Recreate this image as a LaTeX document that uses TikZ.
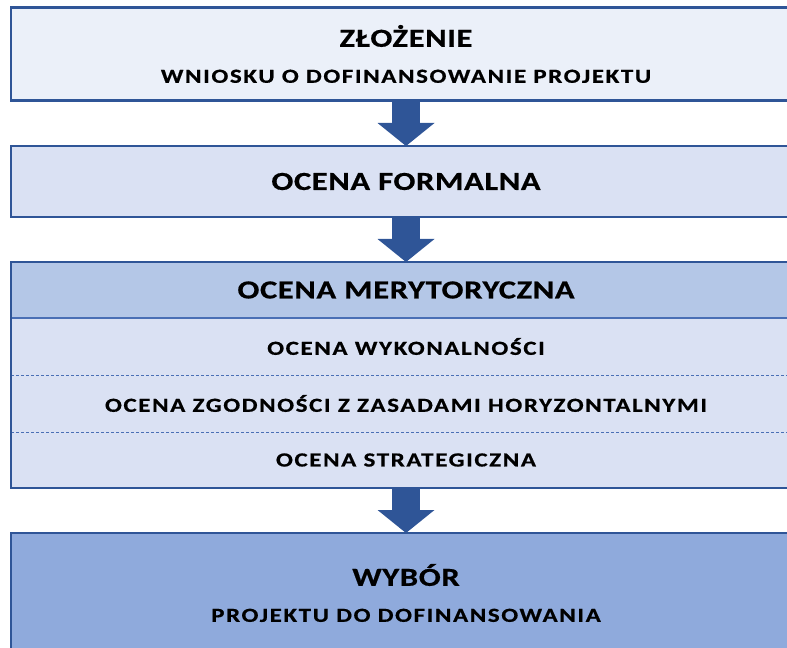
\documentclass[tikz,border=0pt]{standalone}
\usepackage{fontspec}
\newfontfamily\bigface{Carlito}[FakeStretch=1.25,LetterSpace=2.5,FakeBold=0.6]
\newfontfamily\smallface{Carlito}[FakeStretch=1.25,LetterSpace=8,FakeBold=0.6]
\usetikzlibrary{positioning,arrows.meta}
\definecolor{frameblue}{HTML}{2F5597}
\definecolor{ruleblue}{HTML}{4A6FB5}
\definecolor{tintA}{HTML}{EBF0F9}
\definecolor{tintB}{HTML}{DAE1F3}
\definecolor{tintC}{HTML}{B4C7E7}
\definecolor{tintD}{HTML}{8FAADC}
\newcommand{\bigtxt}{\bigface\bfseries\fontsize{19.5}{27}\selectfont}
\newcommand{\smalltxt}{\smallface\bfseries\fontsize{15}{27}\selectfont}
\tikzset{
  stage/.style={draw=frameblue, line width=2pt, minimum width=592.5pt,
    inner sep=0pt, outer sep=0pt, align=center, font=\smalltxt},
  band/.style={minimum width=592.5pt, inner sep=0pt, outer sep=0pt,
    align=center, font=\smalltxt},
  flow/.style={frameblue, line width=21pt,
    -{Triangle[width=42.75pt,length=17.25pt,line width=0pt]}},
}
\begin{document}
\begin{tikzpicture}[x=0.75pt,y=-0.75pt]
    \useasboundingbox (0,0) rectangle (787,648);
    \clip (0,0) rectangle (787,648);
    % submission
    \node[stage, fill=tintA, minimum height=69.75pt] (submit) at (406,54)
        {{\bigtxt ZŁOŻENIE}\\WNIOSKU O DOFINANSOWANIE PROJEKTU};
    % formal check
    \node[stage, fill=tintB, minimum height=53.25pt] (formal) at (406,181.5)
        {\bigtxt OCENA FORMALNA};
    % merit check
    \node[band, fill=tintC, minimum height=42pt] (merit) at (406,290)
        {\bigtxt OCENA MERYTORYCZNA};
    \node[band, fill=tintB, minimum height=42.75pt, below=0pt of merit] (feasib)
        {OCENA WYKONALNOŚCI};
    \node[band, fill=tintB, minimum height=42.75pt, below=0pt of feasib] (horiz)
        {OCENA ZGODNOŚCI Z ZASADAMI HORYZONTALNYMI};
    \node[band, fill=tintB, minimum height=42pt, below=0pt of horiz] (strat)
        {OCENA STRATEGICZNA};
    \draw[ruleblue, line width=1pt] (merit.south west) -- (merit.south east);
    \draw[ruleblue, line width=0.75pt, dash pattern=on 2.25pt off 1.5pt]
        (feasib.south west) -- (feasib.south east);
    \draw[ruleblue, line width=0.75pt, dash pattern=on 2.25pt off 1.5pt]
        (horiz.south west) -- (horiz.south east);
    \draw[frameblue, line width=2pt] (merit.north west) rectangle (strat.south east);
    % selection
    \node[stage, fill=tintD, minimum height=90pt] (choice) at (406,593)
        {{\bigtxt WYBÓR}\\PROJEKTU DO DOFINANSOWANIA};
    % arrows
    \draw[flow] (submit.south) -- (formal.north);
    \draw[flow] (formal.south) -- (merit.north);
    \draw[flow] (strat.south) -- (choice.north);
\end{tikzpicture}
\end{document}
